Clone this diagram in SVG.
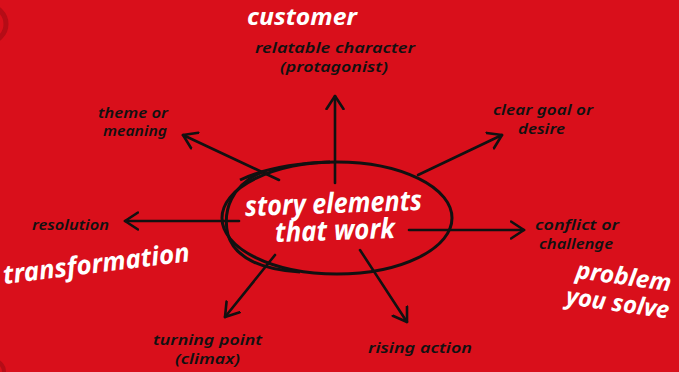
<svg xmlns="http://www.w3.org/2000/svg" width="679" height="372" viewBox="0 0 679 372">
<style>
.bg{fill:#d90f1b}
.lbl{font-family:"Noto Sans","DejaVu Sans",sans-serif;font-style:italic;font-weight:600;font-size:15px;fill:#111;}
.big{font-family:"Noto Sans","DejaVu Sans",sans-serif;font-style:italic;font-weight:bold;fill:#fff;}
.conn{stroke:#111;stroke-width:2.6;fill:none;stroke-linecap:round;}
.ell{stroke:#111;stroke-width:3;fill:none;}
</style>
<defs>
<marker id="arr" viewBox="0 0 16 20" refX="14" refY="10" markerWidth="16" markerHeight="20" markerUnits="userSpaceOnUse" orient="auto">
<path d="M1,1.5 L14,10 L1,18.5" fill="none" stroke="#111" stroke-width="2.6" stroke-linecap="round" stroke-linejoin="round"/>
</marker>
</defs>
<rect class="bg" x="0" y="0" width="679" height="372"/>
<circle cx="-12" cy="24" r="18" fill="none" stroke="#b50c16" stroke-width="5"/>
<circle cx="-8" cy="372" r="12" fill="none" stroke="#b50c16" stroke-width="4"/>
<g id="connectors">
<line class="conn" x1="335" y1="183" x2="335" y2="96" marker-end="url(#arr)"/>
<line class="conn" x1="279" y1="180" x2="183" y2="135" marker-end="url(#arr)"/>
<line class="conn" x1="418" y1="175" x2="502" y2="135" marker-end="url(#arr)"/>
<line class="conn" x1="239" y1="221" x2="125" y2="221" marker-end="url(#arr)"/>
<line class="conn" x1="409" y1="230" x2="524" y2="230" marker-end="url(#arr)"/>
<line class="conn" x1="275" y1="255" x2="225" y2="317" marker-end="url(#arr)"/>
<line class="conn" x1="360" y1="250" x2="407" y2="322" marker-end="url(#arr)"/>
</g>
<g id="center">
<ellipse class="ell" cx="337" cy="218" rx="115" ry="56"/>
<path class="ell" d="M262,172 C232,185 222,210 228,235 C235,258 262,270 300,272" stroke-width="2.6"/>
<path class="ell" d="M240,180 C265,168 300,163 330,162" stroke-width="2"/>
<text class="big" x="245" y="213" font-size="28" textLength="177" lengthAdjust="spacingAndGlyphs" transform="rotate(-2 333 205)">story elements</text>
<text class="big" x="275" y="240" font-size="28" textLength="120" lengthAdjust="spacingAndGlyphs" transform="rotate(-2 335 232)">that work</text>
</g>
<g id="n-relatable">
<text class="lbl" x="255" y="53" font-size="16" textLength="160" lengthAdjust="spacingAndGlyphs">relatable character</text>
<text class="lbl" x="280" y="72" font-size="16" textLength="108" lengthAdjust="spacingAndGlyphs">(protagonist)</text>
</g>
<g id="n-theme">
<text class="lbl" x="98" y="118" textLength="70" lengthAdjust="spacingAndGlyphs">theme or</text>
<text class="lbl" x="103" y="136" textLength="64" lengthAdjust="spacingAndGlyphs">meaning</text>
</g>
<g id="n-goal">
<text class="lbl" x="493" y="115" textLength="100" lengthAdjust="spacingAndGlyphs">clear goal or</text>
<text class="lbl" x="518" y="134" textLength="47" lengthAdjust="spacingAndGlyphs">desire</text>
</g>
<g id="n-resolution">
<text class="lbl" x="32" y="230" textLength="77" lengthAdjust="spacingAndGlyphs">resolution</text>
</g>
<g id="n-conflict">
<text class="lbl" x="535" y="230" textLength="84" lengthAdjust="spacingAndGlyphs">conflict or</text>
<text class="lbl" x="539" y="249" textLength="74" lengthAdjust="spacingAndGlyphs">challenge</text>
</g>
<g id="n-turning">
<text class="lbl" x="153" y="345" textLength="109" lengthAdjust="spacingAndGlyphs">turning point</text>
<text class="lbl" x="175" y="364" textLength="65" lengthAdjust="spacingAndGlyphs">(climax)</text>
</g>
<g id="n-rising">
<text class="lbl" x="368" y="353" textLength="104" lengthAdjust="spacingAndGlyphs">rising action</text>
</g>
<g id="n-customer">
<text class="big" x="247" y="25" font-size="23" textLength="110" lengthAdjust="spacingAndGlyphs">customer</text>
</g>
<g id="n-transformation">
<text class="big" x="4" y="284" font-size="26" textLength="188" lengthAdjust="spacingAndGlyphs" transform="rotate(-7 4 284)">transformation</text>
</g>
<g id="n-problem">
<text class="big" x="575" y="278" font-size="24" textLength="96" lengthAdjust="spacingAndGlyphs" transform="rotate(8 575 278)">problem</text>
<text class="big" x="565" y="304" font-size="24" textLength="104" lengthAdjust="spacingAndGlyphs" transform="rotate(8 565 304)">you solve</text>
</g>
</svg>
